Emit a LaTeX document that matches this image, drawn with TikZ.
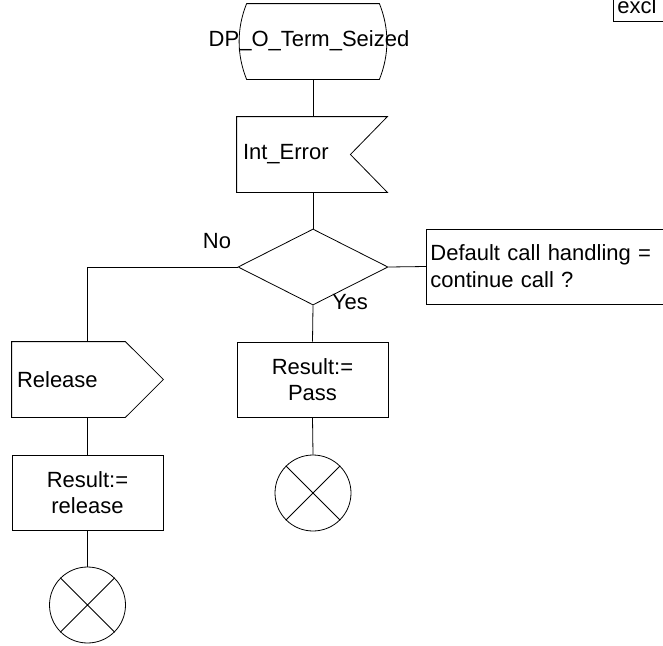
\documentclass[tikz,border=0pt]{standalone}
\usepackage{fontspec}
\setmainfont{Liberation Sans}
\usepackage{tikz}
\usetikzlibrary{shapes.geometric}

\tikzset{
    box/.style={draw, rectangle, inner sep=0pt, minimum width=151pt, minimum height=75pt, align=center},
    shell/.style={rectangle, inner xsep=5pt, inner ysep=0pt, minimum height=75pt, align=left},
    stopsym/.style={draw, circle, inner sep=0pt, minimum size=76pt}
}

\begin{document}
\begin{tikzpicture}[x=1pt, y=-1pt, line width=0.8pt, font=\fontsize{22}{26}\selectfont]

\useasboundingbox (0,0) rectangle (663,645);
\clip (0,0) rectangle (663,645);

% Start
\node[rectangle, inner sep=0pt, minimum width=132pt, minimum height=75pt] (seized) at (313,41.5) {};
\draw
    (seized.north west) -- (seized.north east)
    .. controls ([xshift=10pt,yshift=-25pt]seized.north east) and ([xshift=10pt,yshift=25pt]seized.south east) .. (seized.south east)
    -- (seized.south west)
    .. controls ([xshift=-10pt,yshift=25pt]seized.south west) and ([xshift=-10pt,yshift=-25pt]seized.north west) .. (seized.north west);
\node (seizedtxt) at (309,41) {DP\_O\_Term\_Seized};

% Input
\node[shell, inner xsep=6pt, minimum width=150pt, text width=138pt] (interr) at (312,154.5) {Int\_Error};
\draw
    (interr.north west) -- (interr.north east)
    -- ([xshift=-37pt]interr.east)
    -- (interr.south east) -- (interr.south west) -- cycle;

% Decision
\node[
    draw,
    diamond,
    inner sep=0pt,
    minimum width=150pt,
    minimum height=76pt
] (dec) at (313,267) {};
\node[
    draw,
    rectangle,
    anchor=west,
    inner xsep=4pt,
    minimum height=75pt,
    text width=260pt,
    align=left,
    font=\fontsize{22}{27}\selectfont
] (question) at (426,266.5) {Default call handling =\\continue call ?};
\node (nolbl) at (217,241) {No};
\node (yeslbl) at (350,302) {Yes};

% Output
\node[shell, minimum width=151pt, text width=141pt] (rel) at (87.5,379.5) {Release};
\draw
    (rel.north west) -- ([xshift=-38pt]rel.north east)
    -- (rel.east)
    -- ([xshift=-38pt]rel.south east) -- (rel.south west) -- cycle;

% Tasks
\node[box] (pass) at (312.5,379.5) {Result:=\\Pass};
\node[box] (relres) at (87.5,492.5) {Result:=\\release};

% Stops
\node[stopsym] (passend) at (313,493) {};
\node[stopsym] (relend) at (87.5,605) {};
\draw
    (passend.north west) -- (passend.south east)
    (passend.north east) -- (passend.south west);
\draw
    (relend.north west) -- (relend.south east)
    (relend.north east) -- (relend.south west);

% Comment box
\node[
    draw,
    anchor=base west,
    inner xsep=4pt,
    inner ysep=8pt,
    text width=80pt,
    align=left
] (excl) at (613,13) {excl};

% Flow lines
\draw (seized.south) -- (seized.south |- interr.north);
\draw (dec.north |- interr.south) -- (dec.north);
\draw (dec.east) -- (question.west);
\draw (dec.west) -| (rel.north);
\draw (dec.south) -- (pass.north);
\draw (pass.south) -- (passend.north);
\draw (rel.south) -- (relres.north);
\draw (relres.south) -- (relend.north);

\end{tikzpicture}
\end{document}
